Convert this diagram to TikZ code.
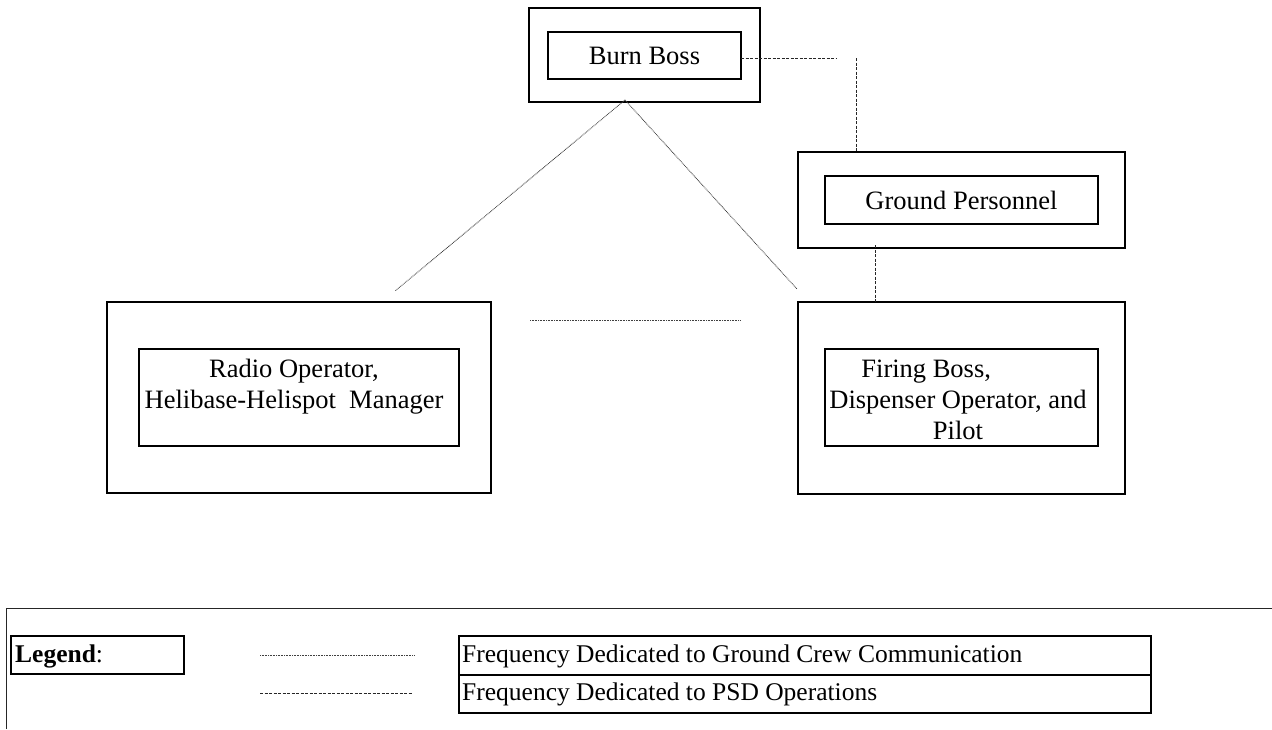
\documentclass[tikz,border=0pt]{standalone}
\usepackage{fontspec}
\setmainfont{Liberation Serif}
\usetikzlibrary{calc}
\begin{document}
\begin{tikzpicture}[x=1pt,y=-1pt,
  box/.style={draw,line width=1.6pt,rectangle,inner sep=0pt,outer sep=0pt},
  lbl/.style={font=\fontsize{26.5}{31}\selectfont,align=center},
  leg/.style={font=\fontsize{25.5}{30}\selectfont,inner sep=0pt,anchor=west},
  gc/.style={line width=0.9pt,dash pattern=on 0.8pt off 0.8pt,black!75},
  psd/.style={line width=1pt,dash pattern=on 3pt off 1.5pt,black!85}]
\useasboundingbox (0,0) rectangle (1272,729);
% Burn Boss
\node[box,minimum width=231,minimum height=94] (burnout) at (644.5,55) {};
\node[box,minimum width=193,minimum height=47,lbl] (burnin) at (644.5,55.5) {Burn Boss};
% Ground Personnel
\node[box,minimum width=327,minimum height=96] (groundout) at (961.5,200) {};
\node[box,minimum width=273,minimum height=48,lbl] (groundin) at (961.5,200) {Ground Personnel};
% Firing Boss
\node[box,minimum width=327,minimum height=192] (firingout) at (961.5,398) {};
\node[box,minimum width=273,minimum height=97] (firingin) at (961.5,397.5) {};
\node[lbl] (firingtxt) at (958,400) {Firing Boss,\hspace*{2.4em}\\Dispenser Operator, and\\Pilot};
% Radio Operator
\node[box,minimum width=384,minimum height=191] (radioout) at (299,397.5) {};
\node[box,minimum width=320,minimum height=97] (radioin) at (299,397.5) {};
\node[lbl] (radiotxt) at (294,404) {Radio Operator,\\Helibase-Helispot~~Manager\\\strut};
% connectors
\coordinate (apex) at (625,100);
\coordinate (lend) at (395,291);
\coordinate (rend) at (797,289);
\draw[gc] (apex) -- (lend);
\draw[gc] (apex) -- (rend);
\coordinate (hl) at (530,320);
\coordinate (hr) at (741,320);
\draw[gc] (hl) -- (hr);
\coordinate (bbend) at (836,58);
\draw[psd] (burnin.east |- bbend) -- (bbend);
\coordinate (vtop) at (856,58);
\draw[psd] (vtop) -- (vtop |- groundout.north);
\coordinate (gfx) at (875,245);
\draw[psd] (gfx) -- (gfx |- firingout.north);
% legend frame
\coordinate (fr1) at (6,729);
\coordinate (fr2) at (6,608);
\coordinate (fr3) at (1272,608);
\draw[line width=1pt,black!85] (fr1) -- (fr2) -- (fr3);
\node[box,minimum width=173,minimum height=38,anchor=north west] (legbox) at (11,636) {};
\node[leg] (legtxt) at (15,656) {\textbf{Legend}:};
\node[box,minimum width=692,minimum height=39,anchor=north west] (gcbox) at (459,636) {};
\node[box,minimum width=692,minimum height=38,anchor=north west] (psdbox) at (459,675) {};
\node[leg] (gctxt) at (462,656) {Frequency Dedicated to Ground Crew Communication};
\node[leg] (psdtxt) at (462,694) {Frequency Dedicated to PSD Operations};
\coordinate (l1a) at (260,655);
\coordinate (l1b) at (415,655);
\coordinate (l2a) at (260,693);
\coordinate (l2b) at (412,693);
\draw[gc] (l1a) -- (l1b);
\draw[psd] (l2a) -- (l2b);
\end{tikzpicture}
\end{document}
